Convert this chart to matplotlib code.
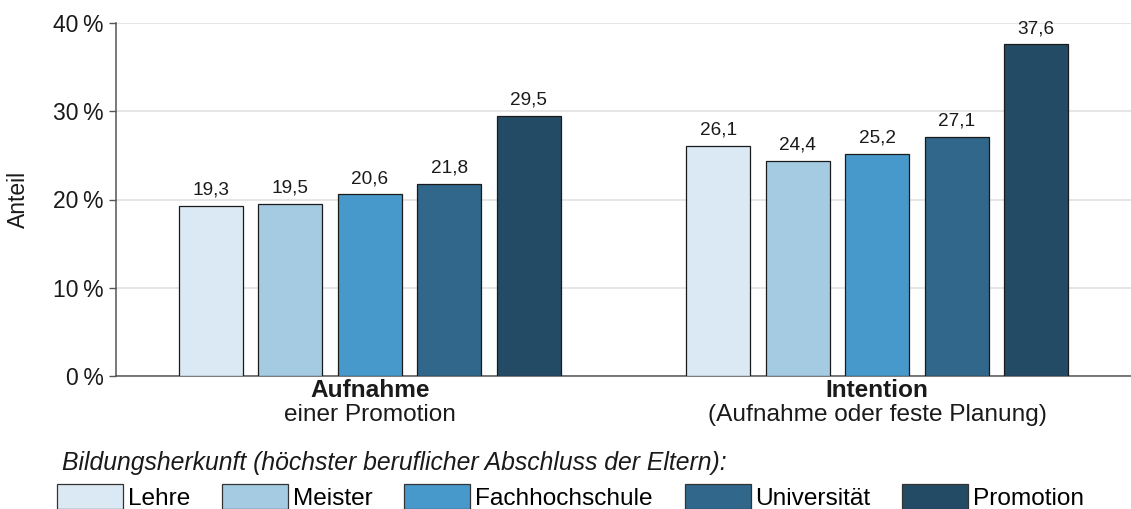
import matplotlib
matplotlib.use("Agg")
import matplotlib.pyplot as plt
from matplotlib.patches import Patch
import numpy as np

plt.rcParams['font.family'] = ['Liberation Sans', 'DejaVu Sans']

groups_bold = ["Aufnahme", "Intention"]
groups_sub = ["einer Promotion", "(Aufnahme oder feste Planung)"]
categories = ["Lehre", "Meister", "Fachhochschule", "Universität", "Promotion"]
values = {
    "Lehre":          [19.3, 26.1],
    "Meister":        [19.5, 24.4],
    "Fachhochschule": [20.6, 25.2],
    "Universität":    [21.8, 27.1],
    "Promotion":      [29.5, 37.6],
}
colors = ["#dae9f4", "#a5cbe3", "#4899cb", "#30678a", "#244b66"]
yticks = [0, 10, 20, 30, 40]
legend_title = "Bildungsherkunft (höchster beruflicher Abschluss der Eltern):"

fig = plt.figure(figsize=(11.31, 5.09), dpi=100)
ax = fig.add_axes([116/1131, 133/509, 1015/1131, 353/509])

x = np.arange(len(groups_bold))
step = 0.1565
width = 0.126
for i, cat in enumerate(categories):
    off = (i - 2) * step
    bars = ax.bar(x + off, values[cat], width, color=colors[i],
                  edgecolor="#1a1a1a", linewidth=0.9, zorder=3)
    for b, v in zip(bars, values[cat]):
        ax.annotate(f"{v:.1f}".replace(".", ","),
                    (b.get_x() + b.get_width()/2, v),
                    xytext=(0, 5), textcoords="offset points",
                    ha="center", va="bottom", fontsize=13.7, color="#1a1a1a")

ax.set_xlim(-0.5, 1.5)
ax.set_ylim(0, 40)
ax.set_yticks(yticks)
ax.set_yticklabels([f"{t}\u2009%" for t in yticks], fontsize=16.5, color="#1a1a1a")
ax.set_xticks([])
ax.grid(axis="y", color="#e5e5e5", linewidth=1.4, zorder=0)
ax.set_axisbelow(True)
for s in ["top", "right"]:
    ax.spines[s].set_visible(False)
ax.spines["left"].set_color("#555555")
ax.spines["bottom"].set_color("#555555")
ax.spines["left"].set_linewidth(1.1)
ax.spines["bottom"].set_linewidth(1.1)
ax.tick_params(axis="y", length=5, width=1.0, color="#555555", pad=4)

fig.text(18/1131, (509 - 199.5)/509, "Anteil", rotation=90, fontsize=16.5,
         ha="center", va="center", color="#1a1a1a")

for xi, gb, gs in zip(x, groups_bold, groups_sub):
    ax.annotate(gb, (xi, 0), xytext=(0, -2), textcoords="offset points",
                ha="center", va="top", fontsize=17.6, fontweight="bold", color="#1a1a1a")
    ax.annotate(gs, (xi, 0), xytext=(0, -20.5), textcoords="offset points",
                ha="center", va="top", fontsize=17.6, color="#1a1a1a")

fig.text(62/1131, (509-463)/509, legend_title, fontsize=17.85, style="italic",
         ha="left", va="center", color="#1a1a1a")

handles = [Patch(facecolor=c, edgecolor="#333333", linewidth=0.9) for c in colors]
fig.legend(handles, categories, loc="center left",
           bbox_to_anchor=(57/1131, (509-497)/509), ncol=5, frameon=False,
           fontsize=17.6, handlelength=2.7, handleheight=1.15,
           handletextpad=0.2, columnspacing=1.3, borderpad=0, borderaxespad=0)

fig.savefig("out.png", dpi=100)
